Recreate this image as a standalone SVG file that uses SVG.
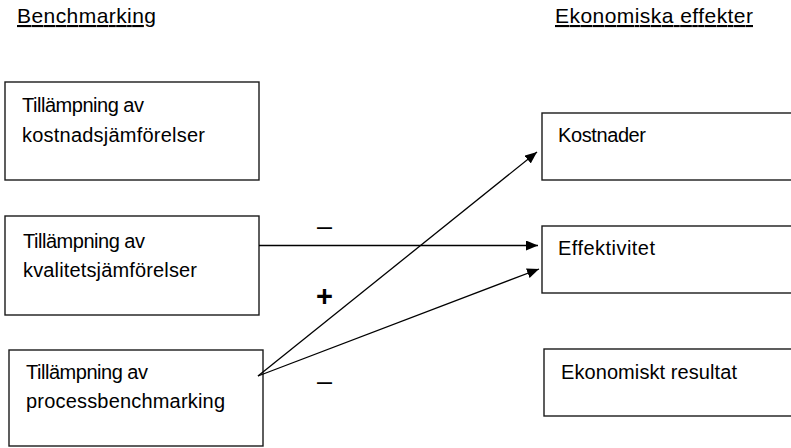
<svg xmlns="http://www.w3.org/2000/svg" width="791" height="448" viewBox="0 0 791 448">
<style>
.box{fill:#fff;stroke:#1a1a1a;stroke-width:1.4}
.t{font-family:"Liberation Sans",Arial,sans-serif;font-size:20px;fill:#000}
.h{font-family:"Liberation Sans",Arial,sans-serif;font-size:21px;fill:#000;text-decoration:underline}
.c{stroke:#000;stroke-width:1.3;fill:none}
.s{font-family:"Liberation Sans",Arial,sans-serif;font-size:27px;fill:#000;text-anchor:middle}
.p{font-family:"Liberation Sans",Arial,sans-serif;font-size:29px;font-weight:bold;fill:#000;text-anchor:middle}
</style>
<defs>
<marker id="ah" markerWidth="12" markerHeight="10" refX="12" refY="5" orient="auto" markerUnits="userSpaceOnUse">
<path d="M0,0 L12,5 L0,10 Z" fill="#000"/>
</marker>
</defs>
<g id="headers">
<text class="h" x="17" y="23" textLength="139">Benchmarking</text>
<text class="h" x="555" y="23" textLength="198">Ekonomiska effekter</text>
</g>
<g id="node-kostnadsjamforelser">
<rect class="box" x="5" y="82" width="254" height="98"/>
<text class="t" x="22" y="112" textLength="122">Tillämpning av</text>
<text class="t" x="22" y="141.5" textLength="183">kostnadsjämförelser</text>
</g>
<g id="node-kvalitetsjamforelser">
<rect class="box" x="5" y="216" width="254" height="99"/>
<text class="t" x="23" y="248" textLength="122">Tillämpning av</text>
<text class="t" x="23" y="276.5" textLength="174">kvalitetsjämförelser</text>
</g>
<g id="node-processbenchmarking">
<rect class="box" x="9" y="350" width="254" height="96"/>
<text class="t" x="26" y="379" textLength="122">Tillämpning av</text>
<text class="t" x="26" y="408" textLength="199">processbenchmarking</text>
</g>
<g id="node-kostnader">
<rect class="box" x="542" y="113" width="270" height="67"/>
<text class="t" x="558" y="141.5" textLength="88">Kostnader</text>
</g>
<g id="node-effektivitet">
<rect class="box" x="542" y="226" width="270" height="67"/>
<text class="t" x="558" y="255" textLength="97">Effektivitet</text>
</g>
<g id="node-resultat">
<rect class="box" x="544" y="349" width="270" height="67"/>
<text class="t" x="561" y="379" textLength="176">Ekonomiskt resultat</text>
</g>
<g id="connectors">
<line class="c" x1="259" y1="245.5" x2="538" y2="245.5" marker-end="url(#ah)"/>
<line class="c" x1="258" y1="376" x2="537" y2="152" marker-end="url(#ah)"/>
<line class="c" x1="258" y1="376" x2="539" y2="269" marker-end="url(#ah)"/>
</g>
<g id="labels">
<text class="s" x="324.5" y="235">–</text>
<text class="p" x="324.5" y="305.5">+</text>
<text class="s" x="324.5" y="390">–</text>
</g>
</svg>
